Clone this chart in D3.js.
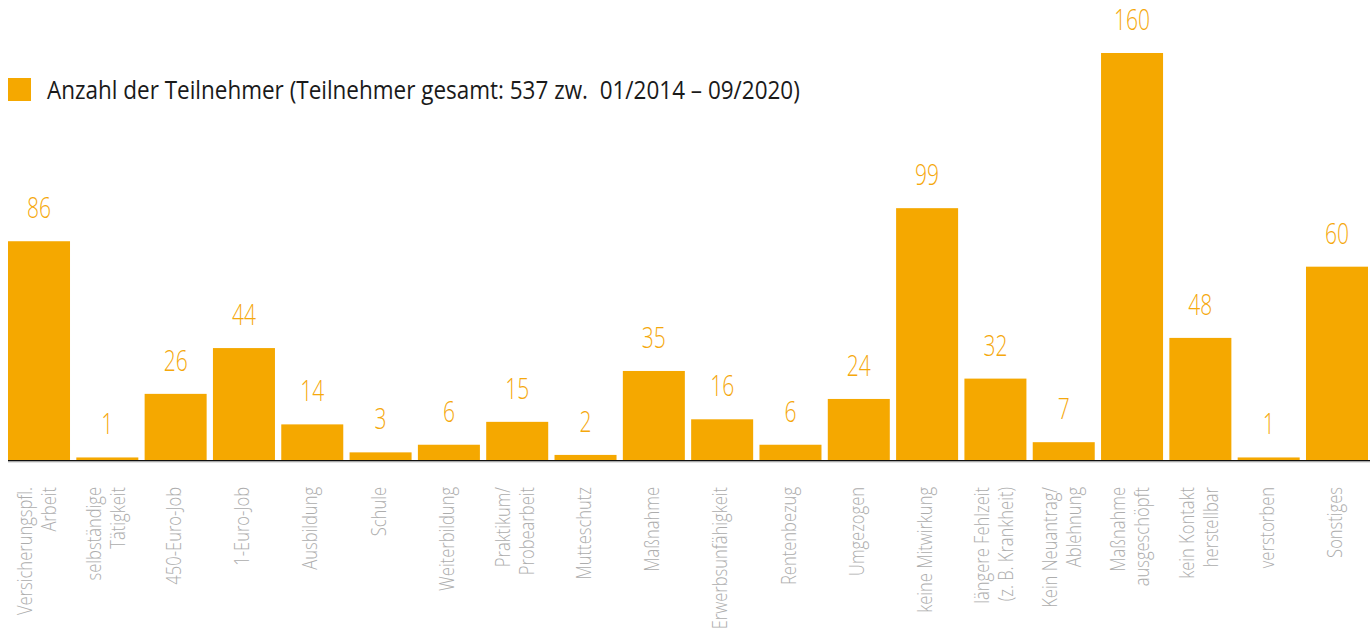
<!DOCTYPE html>
<html>
<head>
<meta charset="utf-8">
<script src="https://cdn.jsdelivr.net/npm/d3@7"></script>
<style>
  html, body { margin: 0; padding: 0; background: #fff; }
  svg { display: block; }
  text { font-family: "Open Sans", "Noto Sans", sans-serif; font-weight: 300; }
  text.legend { font-weight: 400; }
</style>
</head>
<body>
<script>
// ---- data ----
const categories = [
  ["Versicherungspfl.", "Arbeit"],
  ["selbständige", "Tätigkeit"],
  ["450-Euro-Job"],
  ["1-Euro-Job"],
  ["Ausbildung"],
  ["Schule"],
  ["Weiterbildung"],
  ["Praktikum/", "Probearbeit"],
  ["Mutteschutz"],
  ["Maßnahme"],
  ["Erwerbsunfähigkeit"],
  ["Rentenbezug"],
  ["Umgezogen"],
  ["keine Mitwirkung"],
  ["längere Fehlzeit", "(z. B. Krankheit)"],
  ["Kein Neuantrag/", "Ablehnung"],
  ["Maßnahme", "ausgeschöpft"],
  ["kein Kontakt", "herstellbar"],
  ["verstorben"],
  ["Sonstiges"]
];
// values as printed above the bars
const labelValues = [86, 1, 26, 44, 14, 3, 6, 15, 2, 35, 16, 6, 24, 99, 32, 7, 160, 48, 1, 60];
// bar heights as drawn in the reference (the "Sonstiges" bar is drawn taller than its label)
const barValues   = [86, 1, 26, 44, 14, 3, 6, 15, 2, 35, 16, 6, 24, 99, 32, 7, 160, 48, 1, 76];
const legendLabel = "Anzahl der Teilnehmer (Teilnehmer gesamt: 537 zw.  01/2014 – 09/2020)";

// ---- layout ----
const W = 1370, H = 634;
const barColor = "#f5a800";
const labelColor = "#f5a80c";
const axisTextColor = "#adadad";
const baseY = 460;

const svg = d3.select("body").append("svg").attr("width", W).attr("height", H);

// measure helper for horizontal condensing (the reference uses a condensed face)
function measure(str, size, cls) {
  const t = svg.append("text").attr("class", cls || null).attr("font-size", size)
    .attr("xml:space", "preserve").text(str);
  const w = t.node().getComputedTextLength();
  t.remove();
  return w;
}
const valueSize = 29, axisSize = 20.5, legendSize = 25;
const valueScale = Math.min(1, 36 / measure("160", valueSize));
const axisScale = Math.min(1, 104 / measure("Weiterbildung", axisSize));
const legendScale = Math.min(1, 753 / measure(legendLabel, legendSize, "legend"));

const idx = d3.range(categories.length);
const x = d3.scaleBand().domain(idx).range([8, 1368]).paddingInner(0.0923).paddingOuter(0);
const y = d3.scaleLinear().domain([0, 160]).range([baseY, 53]);

// bars
svg.append("g").selectAll("rect").data(idx).join("rect")
  .attr("x", i => x(i))
  .attr("y", i => y(barValues[i]))
  .attr("width", x.bandwidth())
  .attr("height", i => y(0) - y(barValues[i]))
  .attr("fill", barColor);

// value labels
svg.append("g").selectAll("text").data(idx).join("text")
  .attr("transform", i => `translate(${x(i) + x.bandwidth() / 2},${y(barValues[i]) - 23}) scale(${valueScale},1)`)
  .attr("text-anchor", "middle")
  .attr("font-size", valueSize)
  .attr("fill", labelColor)
  .text(i => labelValues[i]);

// baseline
svg.append("line").attr("x1", 8).attr("x2", W).attr("y1", baseY + 0.75).attr("y2", baseY + 0.75)
  .attr("stroke", "#111").attr("stroke-width", 1.5);
svg.append("line").attr("x1", 8).attr("x2", W).attr("y1", baseY + 2).attr("y2", baseY + 2)
  .attr("stroke", "#c8c8c8").attr("stroke-width", 1);

// category axis (rotated multi-line labels)
const axis = d3.axisBottom(x).tickSize(0).tickFormat(() => "");
const axG = svg.append("g").attr("transform", `translate(0,${baseY})`).call(axis);
axG.select(".domain").remove();
const lh = 24;
axG.selectAll(".tick").each(function(i) {
  const lines = categories[i];
  const t = d3.select(this).append("text")
    .attr("transform", `translate(-2,27) rotate(-90) scale(${axisScale},1)`)
    .attr("text-anchor", "end")
    .attr("font-size", axisSize)
    .attr("fill", axisTextColor);
  lines.forEach((ln, k) => {
    t.append("tspan")
      .attr("x", 0)
      .attr("y", (k - (lines.length - 1) / 2) * lh)
      .attr("dy", "0.35em")
      .text(ln);
  });
});

// legend
svg.append("rect").attr("x", 8).attr("y", 78).attr("width", 23).attr("height", 23).attr("fill", barColor);
svg.append("text").attr("class", "legend")
  .attr("transform", `translate(47,99) scale(${legendScale},1)`)
  .attr("font-size", legendSize).attr("fill", "#1a1a1a")
  .attr("xml:space", "preserve")
  .text(legendLabel);
</script>
</body>
</html>
